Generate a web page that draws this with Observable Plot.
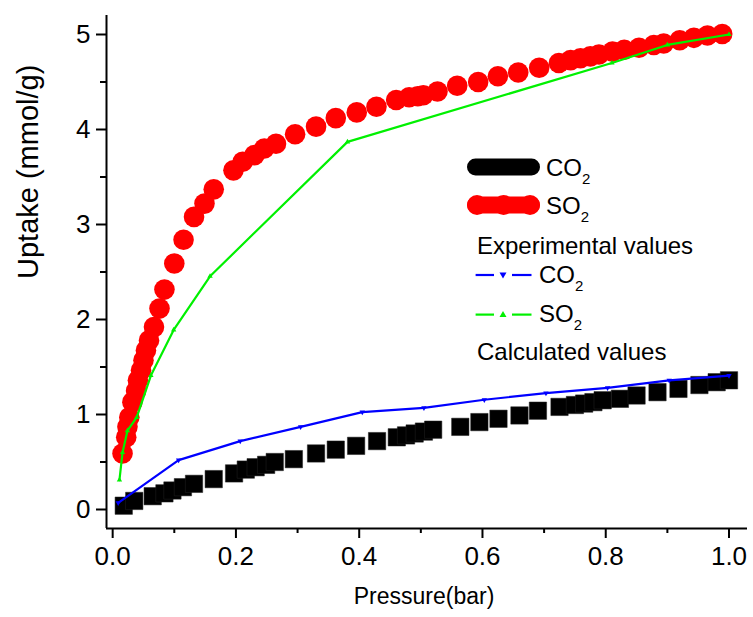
<!DOCTYPE html>
<html>
<head>
<meta charset="utf-8">
<script src="https://cdn.jsdelivr.net/npm/d3@7"></script>
<script src="https://cdn.jsdelivr.net/npm/@observablehq/plot@0.6"></script>
<style>
  html, body { margin: 0; padding: 0; background: #fff; }
  #wrap { position: relative; width: 753px; height: 617px; }
  #legend { position: absolute; left: 0; top: 0; pointer-events: none; }
  text { font-family: "Liberation Sans", Arial, sans-serif; }
</style>
</head>
<body>
<div id="wrap"></div>
<script>
// Experimental CO2 uptake (black squares)
const co2ExpP = [0.018,0.035,0.065,0.084,0.097,0.114,0.132,0.164,0.197,0.216,0.232,0.249,0.263,0.294,0.33,0.362,0.395,0.429,0.461,0.476,0.49,0.505,0.52,0.564,0.595,0.626,0.66,0.69,0.725,0.75,0.765,0.78,0.795,0.823,0.85,0.884,0.918,0.952,0.98,1.0];
const co2ExpU = [0.04,0.09,0.14,0.17,0.20,0.235,0.27,0.32,0.38,0.42,0.445,0.47,0.50,0.53,0.59,0.63,0.67,0.72,0.76,0.78,0.80,0.82,0.84,0.87,0.92,0.955,0.99,1.04,1.08,1.10,1.115,1.13,1.15,1.165,1.20,1.235,1.27,1.31,1.34,1.36];
// Experimental SO2 uptake (red circles)
const so2ExpP = [0.016,0.022,0.024,0.027,0.032,0.038,0.041,0.046,0.05,0.054,0.059,0.067,0.076,0.084,0.1,0.115,0.132,0.149,0.164,0.196,0.211,0.23,0.246,0.265,0.296,0.33,0.362,0.396,0.428,0.46,0.481,0.495,0.504,0.527,0.559,0.593,0.625,0.658,0.692,0.724,0.743,0.759,0.775,0.789,0.811,0.83,0.854,0.878,0.894,0.92,0.943,0.965,0.989];
const so2ExpU = [0.59,0.76,0.87,0.97,1.13,1.25,1.36,1.465,1.57,1.675,1.78,1.92,2.115,2.315,2.59,2.84,3.08,3.22,3.37,3.57,3.66,3.73,3.80,3.85,3.95,4.03,4.12,4.18,4.24,4.31,4.34,4.35,4.36,4.40,4.46,4.50,4.56,4.60,4.65,4.70,4.73,4.75,4.77,4.79,4.82,4.84,4.86,4.89,4.905,4.94,4.965,4.99,5.005];
// Calculated CO2 (blue line)
const co2CalcP = [0.009,0.107,0.207,0.305,0.405,0.505,0.603,0.703,0.803,0.903,1.0];
const co2CalcU = [0.07,0.52,0.72,0.87,1.025,1.07,1.155,1.225,1.28,1.36,1.41];
// Calculated SO2 (green line)
const so2CalcP = [0.011,0.016,0.024,0.039,0.062,0.099,0.158,0.381,0.81,0.9,1.0];
const so2CalcU = [0.31,0.60,0.83,0.97,1.41,1.89,2.455,3.87,4.70,4.89,5.0];

const xMajor = [0, 0.2, 0.4, 0.6, 0.8, 1.0];
const xMinor = [0.1, 0.3, 0.5, 0.7, 0.9];
const yMajor = [0, 1, 2, 3, 4, 5];
const yMinor = [0.5, 1.5, 2.5, 3.5, 4.5];
const xDomain = [-0.01, 1.03];
const yDomain = [-0.2, 5.2];

const zip = (ps, us) => ps.map((p, i) => ({p, u: us[i]}));
const co2Exp = zip(co2ExpP, co2ExpU);
const so2Exp = zip(so2ExpP, so2ExpU);
const co2Calc = zip(co2CalcP, co2CalcU);
const so2Calc = zip(so2CalcP, so2CalcU);

const GREEN = "#00f000";
const BLUE = "#0000ff";
const RED = "#ff0000";
const FONT = "'Liberation Sans', Arial, sans-serif";

const chart = Plot.plot({
  width: 753,
  height: 617,
  marginLeft: 106,
  marginRight: 6,
  marginTop: 15,
  marginBottom: 89,
  x: {domain: xDomain, label: null},
  y: {domain: yDomain, label: null},
  style: {fontFamily: FONT, background: "#fff", color: "#000"},
  marks: [
    Plot.ruleX([xDomain[0]], {stroke: "#000", strokeWidth: 2}),
    Plot.ruleY([yDomain[0]], {stroke: "#000", strokeWidth: 2}),
    Plot.axisX({ticks: xMajor, tickSize: 10, tickPadding: 8, strokeWidth: 2, tickFormat: d3.format(".1f"), fontSize: 26, label: null}),
    Plot.axisX({ticks: xMinor, tickSize: 5, strokeWidth: 2, tickFormat: () => "", label: null}),
    Plot.axisY({ticks: yMajor, tickSize: 10, tickPadding: 6, strokeWidth: 2, tickFormat: d3.format("d"), fontSize: 26, label: null}),
    Plot.axisY({ticks: yMinor, tickSize: 6, strokeWidth: 2, tickFormat: () => "", label: null}),
    Plot.dot(co2Exp, {x: "p", y: "u", symbol: "square", r: 9.8, fill: "#000", stroke: "#222", strokeWidth: 0.5}),
    Plot.dot(so2Exp, {x: "p", y: "u", symbol: "circle", r: 10.3, fill: RED}),
    Plot.line(co2Calc, {x: "p", y: "u", stroke: BLUE, strokeWidth: 2.2}),
    Plot.dot(co2Calc, {x: "p", y: "u", symbol: "triangle", rotate: 180, r: 2, fill: BLUE}),
    Plot.line(so2Calc, {x: "p", y: "u", stroke: GREEN, strokeWidth: 2.2}),
    Plot.dot(so2Calc, {x: "p", y: "u", symbol: "triangle", r: 2, fill: GREEN}),
    Plot.text(["Uptake (mmol/g)"], {frameAnchor: "left", text: d => d, rotate: -90, dx: -78, dy: 7, fontSize: 29, fill: "#000"}),
    Plot.text(["Pressure(bar)"], {frameAnchor: "bottom", text: d => d, dx: -3, dy: 75, fontSize: 23, fill: "#000"})
  ]
});

const wrap = document.getElementById("wrap");
wrap.appendChild(chart);

// Legend overlay (inside plot area, top right)
const legend = `
<svg id="legend" width="753" height="617" xmlns="http://www.w3.org/2000/svg" font-family="'Liberation Sans', Arial, sans-serif">
  <rect x="467" y="158.5" width="73" height="17" rx="8.5" fill="#000"/>
  <text x="546" y="176" font-size="24">CO<tspan dy="8" font-size="15">2</tspan></text>
  <rect x="467" y="196.5" width="73" height="17" rx="8.5" fill="${RED}"/>
  <circle cx="477" cy="205" r="10" fill="${RED}"/>
  <circle cx="503.5" cy="205" r="10" fill="${RED}"/>
  <circle cx="530" cy="205" r="10" fill="${RED}"/>
  <text x="546" y="214" font-size="24">SO<tspan dy="8" font-size="15">2</tspan></text>
  <text x="477" y="254" font-size="24">Experimental values</text>
  <line x1="475.6" y1="275" x2="494" y2="275" stroke="${BLUE}" stroke-width="2.2"/>
  <line x1="512" y1="275" x2="531.5" y2="275" stroke="${BLUE}" stroke-width="2.2"/>
  <path d="M499.5,272.5 L506.5,272.5 L503,278.5 Z" fill="${BLUE}"/>
  <text x="539" y="283" font-size="24">CO<tspan dy="8" font-size="15">2</tspan></text>
  <line x1="475.6" y1="314.6" x2="494" y2="314.6" stroke="${GREEN}" stroke-width="2.2"/>
  <line x1="512" y1="314.6" x2="531.5" y2="314.6" stroke="${GREEN}" stroke-width="2.2"/>
  <path d="M499.5,317 L506.5,317 L503,311 Z" fill="${GREEN}"/>
  <text x="539" y="322" font-size="24">SO<tspan dy="8" font-size="15">2</tspan></text>
  <text x="477" y="360" font-size="24">Calculated values</text>
</svg>`;
wrap.insertAdjacentHTML("beforeend", legend);
</script>
</body>
</html>
